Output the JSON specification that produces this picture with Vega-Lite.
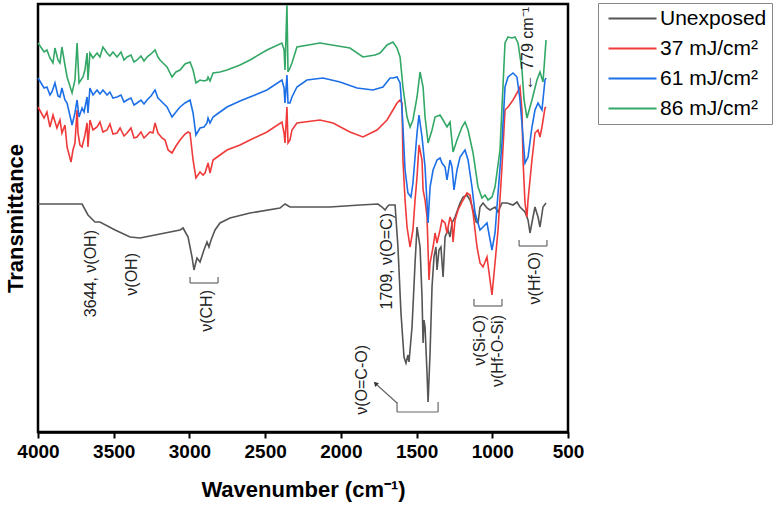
{
  "$schema": "https://vega.github.io/schema/vega-lite/v6.json",
  "width": 530,
  "height": 428,
  "autosize": {"type": "none"},
  "padding": {"left": 38, "top": 4, "right": 208, "bottom": 74},
  "background": "white",
  "config": {"view": {"stroke": "black", "strokeWidth": 2.5}, "font": "Liberation Sans"},
  "datasets": {
    "spectra": [
      {"series":"Unexposed","wn":4000,"T":228},{"series":"Unexposed","wn":3709,"T":228},{"series":"Unexposed","wn":3670,"T":217},{"series":"Unexposed","wn":3624,"T":210},{"series":"Unexposed","wn":3591,"T":210},{"series":"Unexposed","wn":3491,"T":202},{"series":"Unexposed","wn":3392,"T":195},{"series":"Unexposed","wn":3326,"T":194},{"series":"Unexposed","wn":3161,"T":199},{"series":"Unexposed","wn":3062,"T":202},{"series":"Unexposed","wn":3042,"T":204},{"series":"Unexposed","wn":3009,"T":195},{"series":"Unexposed","wn":2983,"T":175},{"series":"Unexposed","wn":2970,"T":162},{"series":"Unexposed","wn":2957,"T":170},{"series":"Unexposed","wn":2950,"T":174},{"series":"Unexposed","wn":2930,"T":170},{"series":"Unexposed","wn":2904,"T":182},{"series":"Unexposed","wn":2884,"T":190},{"series":"Unexposed","wn":2871,"T":185},{"series":"Unexposed","wn":2857,"T":192},{"series":"Unexposed","wn":2831,"T":202},{"series":"Unexposed","wn":2798,"T":209},{"series":"Unexposed","wn":2732,"T":214},{"series":"Unexposed","wn":2600,"T":219},{"series":"Unexposed","wn":2402,"T":224},{"series":"Unexposed","wn":2369,"T":228},{"series":"Unexposed","wn":2336,"T":225},{"series":"Unexposed","wn":2072,"T":225},{"series":"Unexposed","wn":1874,"T":227},{"series":"Unexposed","wn":1755,"T":228},{"series":"Unexposed","wn":1728,"T":225},{"series":"Unexposed","wn":1708,"T":222},{"series":"Unexposed","wn":1695,"T":225},{"series":"Unexposed","wn":1682,"T":227},{"series":"Unexposed","wn":1642,"T":227},{"series":"Unexposed","wn":1623,"T":185},{"series":"Unexposed","wn":1603,"T":119},{"series":"Unexposed","wn":1583,"T":75},{"series":"Unexposed","wn":1570,"T":69},{"series":"Unexposed","wn":1557,"T":77},{"series":"Unexposed","wn":1550,"T":70},{"series":"Unexposed","wn":1530,"T":105},{"series":"Unexposed","wn":1510,"T":169},{"series":"Unexposed","wn":1497,"T":205},{"series":"Unexposed","wn":1477,"T":185},{"series":"Unexposed","wn":1464,"T":135},{"series":"Unexposed","wn":1457,"T":89},{"series":"Unexposed","wn":1451,"T":112},{"series":"Unexposed","wn":1444,"T":105},{"series":"Unexposed","wn":1431,"T":59},{"series":"Unexposed","wn":1424,"T":30},{"series":"Unexposed","wn":1411,"T":79},{"series":"Unexposed","wn":1398,"T":145},{"series":"Unexposed","wn":1385,"T":175},{"series":"Unexposed","wn":1372,"T":185},{"series":"Unexposed","wn":1365,"T":162},{"series":"Unexposed","wn":1352,"T":182},{"series":"Unexposed","wn":1339,"T":185},{"series":"Unexposed","wn":1325,"T":155},{"series":"Unexposed","wn":1312,"T":195},{"series":"Unexposed","wn":1292,"T":202},{"series":"Unexposed","wn":1279,"T":195},{"series":"Unexposed","wn":1266,"T":209},{"series":"Unexposed","wn":1246,"T":215},{"series":"Unexposed","wn":1213,"T":229},{"series":"Unexposed","wn":1193,"T":235},{"series":"Unexposed","wn":1167,"T":237},{"series":"Unexposed","wn":1147,"T":232},{"series":"Unexposed","wn":1127,"T":222},{"series":"Unexposed","wn":1107,"T":210},{"series":"Unexposed","wn":1094,"T":209},{"series":"Unexposed","wn":1081,"T":225},{"series":"Unexposed","wn":1061,"T":229},{"series":"Unexposed","wn":1035,"T":224},{"series":"Unexposed","wn":1015,"T":222},{"series":"Unexposed","wn":982,"T":225},{"series":"Unexposed","wn":962,"T":220},{"series":"Unexposed","wn":936,"T":229},{"series":"Unexposed","wn":903,"T":229},{"series":"Unexposed","wn":863,"T":227},{"series":"Unexposed","wn":837,"T":230},{"series":"Unexposed","wn":817,"T":225},{"series":"Unexposed","wn":784,"T":220},{"series":"Unexposed","wn":764,"T":212},{"series":"Unexposed","wn":751,"T":199},{"series":"Unexposed","wn":731,"T":215},{"series":"Unexposed","wn":718,"T":225},{"series":"Unexposed","wn":698,"T":215},{"series":"Unexposed","wn":685,"T":205},{"series":"Unexposed","wn":665,"T":225},{"series":"Unexposed","wn":645,"T":229},

      {"series":"37 mJ/cm²","wn":4000,"T":325},{"series":"37 mJ/cm²","wn":3960,"T":314},{"series":"37 mJ/cm²","wn":3941,"T":320},{"series":"37 mJ/cm²","wn":3921,"T":305},{"series":"37 mJ/cm²","wn":3901,"T":317},{"series":"37 mJ/cm²","wn":3875,"T":304},{"series":"37 mJ/cm²","wn":3855,"T":312},{"series":"37 mJ/cm²","wn":3842,"T":299},{"series":"37 mJ/cm²","wn":3822,"T":307},{"series":"37 mJ/cm²","wn":3808,"T":285},{"series":"37 mJ/cm²","wn":3782,"T":270},{"series":"37 mJ/cm²","wn":3769,"T":282},{"series":"37 mJ/cm²","wn":3756,"T":289},{"series":"37 mJ/cm²","wn":3742,"T":322},{"series":"37 mJ/cm²","wn":3736,"T":299},{"series":"37 mJ/cm²","wn":3723,"T":287},{"series":"37 mJ/cm²","wn":3709,"T":285},{"series":"37 mJ/cm²","wn":3690,"T":297},{"series":"37 mJ/cm²","wn":3676,"T":309},{"series":"37 mJ/cm²","wn":3670,"T":285},{"series":"37 mJ/cm²","wn":3657,"T":312},{"series":"37 mJ/cm²","wn":3637,"T":302},{"series":"37 mJ/cm²","wn":3610,"T":305},{"series":"37 mJ/cm²","wn":3591,"T":310},{"series":"37 mJ/cm²","wn":3571,"T":300},{"series":"37 mJ/cm²","wn":3544,"T":302},{"series":"37 mJ/cm²","wn":3525,"T":308},{"series":"37 mJ/cm²","wn":3505,"T":298},{"series":"37 mJ/cm²","wn":3478,"T":299},{"series":"37 mJ/cm²","wn":3458,"T":304},{"series":"37 mJ/cm²","wn":3432,"T":296},{"series":"37 mJ/cm²","wn":3412,"T":299},{"series":"37 mJ/cm²","wn":3386,"T":304},{"series":"37 mJ/cm²","wn":3366,"T":294},{"series":"37 mJ/cm²","wn":3346,"T":295},{"series":"37 mJ/cm²","wn":3320,"T":300},{"series":"37 mJ/cm²","wn":3300,"T":294},{"series":"37 mJ/cm²","wn":3280,"T":297},{"series":"37 mJ/cm²","wn":3260,"T":300},{"series":"37 mJ/cm²","wn":3241,"T":299},{"series":"37 mJ/cm²","wn":3227,"T":309},{"series":"37 mJ/cm²","wn":3208,"T":299},{"series":"37 mJ/cm²","wn":3181,"T":294},{"series":"37 mJ/cm²","wn":3161,"T":292},{"series":"37 mJ/cm²","wn":3141,"T":282},{"series":"37 mJ/cm²","wn":3115,"T":279},{"series":"37 mJ/cm²","wn":3089,"T":286},{"series":"37 mJ/cm²","wn":3062,"T":292},{"series":"37 mJ/cm²","wn":3029,"T":298},{"series":"37 mJ/cm²","wn":3009,"T":300},{"series":"37 mJ/cm²","wn":2996,"T":299},{"series":"37 mJ/cm²","wn":2976,"T":272},{"series":"37 mJ/cm²","wn":2957,"T":254},{"series":"37 mJ/cm²","wn":2930,"T":260},{"series":"37 mJ/cm²","wn":2910,"T":257},{"series":"37 mJ/cm²","wn":2897,"T":259},{"series":"37 mJ/cm²","wn":2877,"T":269},{"series":"37 mJ/cm²","wn":2864,"T":259},{"series":"37 mJ/cm²","wn":2844,"T":272},{"series":"37 mJ/cm²","wn":2798,"T":277},{"series":"37 mJ/cm²","wn":2752,"T":282},{"series":"37 mJ/cm²","wn":2666,"T":287},{"series":"37 mJ/cm²","wn":2600,"T":292},{"series":"37 mJ/cm²","wn":2488,"T":300},{"series":"37 mJ/cm²","wn":2389,"T":310},{"series":"37 mJ/cm²","wn":2375,"T":299},{"series":"37 mJ/cm²","wn":2369,"T":289},{"series":"37 mJ/cm²","wn":2356,"T":325},{"series":"37 mJ/cm²","wn":2349,"T":289},{"series":"37 mJ/cm²","wn":2336,"T":292},{"series":"37 mJ/cm²","wn":2323,"T":302},{"series":"37 mJ/cm²","wn":2290,"T":309},{"series":"37 mJ/cm²","wn":2138,"T":312},{"series":"37 mJ/cm²","wn":2052,"T":309},{"series":"37 mJ/cm²","wn":1940,"T":300},{"series":"37 mJ/cm²","wn":1854,"T":295},{"series":"37 mJ/cm²","wn":1761,"T":302},{"series":"37 mJ/cm²","wn":1695,"T":312},{"series":"37 mJ/cm²","wn":1656,"T":322},{"series":"37 mJ/cm²","wn":1629,"T":329},{"series":"37 mJ/cm²","wn":1609,"T":332},{"series":"37 mJ/cm²","wn":1596,"T":329},{"series":"37 mJ/cm²","wn":1590,"T":272},{"series":"37 mJ/cm²","wn":1576,"T":232},{"series":"37 mJ/cm²","wn":1563,"T":205},{"series":"37 mJ/cm²","wn":1543,"T":185},{"series":"37 mJ/cm²","wn":1524,"T":202},{"series":"37 mJ/cm²","wn":1510,"T":232},{"series":"37 mJ/cm²","wn":1497,"T":255},{"series":"37 mJ/cm²","wn":1484,"T":287},{"series":"37 mJ/cm²","wn":1464,"T":272},{"series":"37 mJ/cm²","wn":1457,"T":242},{"series":"37 mJ/cm²","wn":1444,"T":232},{"series":"37 mJ/cm²","wn":1431,"T":215},{"series":"37 mJ/cm²","wn":1424,"T":182},{"series":"37 mJ/cm²","wn":1418,"T":152},{"series":"37 mJ/cm²","wn":1411,"T":169},{"series":"37 mJ/cm²","wn":1391,"T":185},{"series":"37 mJ/cm²","wn":1378,"T":199},{"series":"37 mJ/cm²","wn":1365,"T":189},{"series":"37 mJ/cm²","wn":1345,"T":202},{"series":"37 mJ/cm²","wn":1332,"T":212},{"series":"37 mJ/cm²","wn":1312,"T":209},{"series":"37 mJ/cm²","wn":1299,"T":199},{"series":"37 mJ/cm²","wn":1279,"T":215},{"series":"37 mJ/cm²","wn":1266,"T":209},{"series":"37 mJ/cm²","wn":1259,"T":190},{"series":"37 mJ/cm²","wn":1246,"T":212},{"series":"37 mJ/cm²","wn":1226,"T":222},{"series":"37 mJ/cm²","wn":1193,"T":232},{"series":"37 mJ/cm²","wn":1167,"T":239},{"series":"37 mJ/cm²","wn":1147,"T":237},{"series":"37 mJ/cm²","wn":1127,"T":219},{"series":"37 mJ/cm²","wn":1101,"T":185},{"series":"37 mJ/cm²","wn":1081,"T":169},{"series":"37 mJ/cm²","wn":1061,"T":165},{"series":"37 mJ/cm²","wn":1035,"T":175},{"series":"37 mJ/cm²","wn":1002,"T":137},{"series":"37 mJ/cm²","wn":982,"T":169},{"series":"37 mJ/cm²","wn":962,"T":202},{"series":"37 mJ/cm²","wn":936,"T":265},{"series":"37 mJ/cm²","wn":916,"T":322},{"series":"37 mJ/cm²","wn":896,"T":325},{"series":"37 mJ/cm²","wn":863,"T":332},{"series":"37 mJ/cm²","wn":837,"T":339},{"series":"37 mJ/cm²","wn":817,"T":345},{"series":"37 mJ/cm²","wn":804,"T":322},{"series":"37 mJ/cm²","wn":797,"T":272},{"series":"37 mJ/cm²","wn":784,"T":229},{"series":"37 mJ/cm²","wn":771,"T":215},{"series":"37 mJ/cm²","wn":764,"T":232},{"series":"37 mJ/cm²","wn":738,"T":272},{"series":"37 mJ/cm²","wn":718,"T":299},{"series":"37 mJ/cm²","wn":698,"T":302},{"series":"37 mJ/cm²","wn":685,"T":295},{"series":"37 mJ/cm²","wn":672,"T":305},{"series":"37 mJ/cm²","wn":652,"T":324},{"series":"37 mJ/cm²","wn":645,"T":325},

      {"series":"61 mJ/cm²","wn":4000,"T":354},{"series":"61 mJ/cm²","wn":3960,"T":344},{"series":"61 mJ/cm²","wn":3941,"T":345},{"series":"61 mJ/cm²","wn":3921,"T":337},{"series":"61 mJ/cm²","wn":3908,"T":340},{"series":"61 mJ/cm²","wn":3888,"T":349},{"series":"61 mJ/cm²","wn":3868,"T":336},{"series":"61 mJ/cm²","wn":3855,"T":335},{"series":"61 mJ/cm²","wn":3842,"T":344},{"series":"61 mJ/cm²","wn":3822,"T":332},{"series":"61 mJ/cm²","wn":3808,"T":329},{"series":"61 mJ/cm²","wn":3775,"T":307},{"series":"61 mJ/cm²","wn":3756,"T":319},{"series":"61 mJ/cm²","wn":3742,"T":332},{"series":"61 mJ/cm²","wn":3729,"T":315},{"series":"61 mJ/cm²","wn":3709,"T":324},{"series":"61 mJ/cm²","wn":3696,"T":320},{"series":"61 mJ/cm²","wn":3676,"T":335},{"series":"61 mJ/cm²","wn":3670,"T":319},{"series":"61 mJ/cm²","wn":3657,"T":344},{"series":"61 mJ/cm²","wn":3637,"T":337},{"series":"61 mJ/cm²","wn":3610,"T":342},{"series":"61 mJ/cm²","wn":3591,"T":338},{"series":"61 mJ/cm²","wn":3571,"T":342},{"series":"61 mJ/cm²","wn":3544,"T":337},{"series":"61 mJ/cm²","wn":3525,"T":340},{"series":"61 mJ/cm²","wn":3505,"T":334},{"series":"61 mJ/cm²","wn":3478,"T":335},{"series":"61 mJ/cm²","wn":3452,"T":337},{"series":"61 mJ/cm²","wn":3432,"T":330},{"series":"61 mJ/cm²","wn":3412,"T":332},{"series":"61 mJ/cm²","wn":3386,"T":334},{"series":"61 mJ/cm²","wn":3366,"T":327},{"series":"61 mJ/cm²","wn":3346,"T":329},{"series":"61 mJ/cm²","wn":3320,"T":332},{"series":"61 mJ/cm²","wn":3300,"T":328},{"series":"61 mJ/cm²","wn":3280,"T":332},{"series":"61 mJ/cm²","wn":3254,"T":336},{"series":"61 mJ/cm²","wn":3227,"T":342},{"series":"61 mJ/cm²","wn":3208,"T":334},{"series":"61 mJ/cm²","wn":3194,"T":332},{"series":"61 mJ/cm²","wn":3168,"T":328},{"series":"61 mJ/cm²","wn":3148,"T":325},{"series":"61 mJ/cm²","wn":3115,"T":315},{"series":"61 mJ/cm²","wn":3089,"T":320},{"series":"61 mJ/cm²","wn":3062,"T":325},{"series":"61 mJ/cm²","wn":3029,"T":329},{"series":"61 mJ/cm²","wn":2996,"T":332},{"series":"61 mJ/cm²","wn":2976,"T":319},{"series":"61 mJ/cm²","wn":2957,"T":297},{"series":"61 mJ/cm²","wn":2930,"T":304},{"series":"61 mJ/cm²","wn":2904,"T":305},{"series":"61 mJ/cm²","wn":2884,"T":309},{"series":"61 mJ/cm²","wn":2877,"T":314},{"series":"61 mJ/cm²","wn":2864,"T":309},{"series":"61 mJ/cm²","wn":2844,"T":315},{"series":"61 mJ/cm²","wn":2798,"T":320},{"series":"61 mJ/cm²","wn":2752,"T":325},{"series":"61 mJ/cm²","wn":2666,"T":331},{"series":"61 mJ/cm²","wn":2600,"T":335},{"series":"61 mJ/cm²","wn":2488,"T":342},{"series":"61 mJ/cm²","wn":2389,"T":352},{"series":"61 mJ/cm²","wn":2375,"T":344},{"series":"61 mJ/cm²","wn":2369,"T":329},{"series":"61 mJ/cm²","wn":2356,"T":357},{"series":"61 mJ/cm²","wn":2349,"T":329},{"series":"61 mJ/cm²","wn":2336,"T":329},{"series":"61 mJ/cm²","wn":2323,"T":335},{"series":"61 mJ/cm²","wn":2290,"T":345},{"series":"61 mJ/cm²","wn":2224,"T":352},{"series":"61 mJ/cm²","wn":2118,"T":354},{"series":"61 mJ/cm²","wn":2006,"T":350},{"series":"61 mJ/cm²","wn":1893,"T":344},{"series":"61 mJ/cm²","wn":1788,"T":342},{"series":"61 mJ/cm²","wn":1722,"T":345},{"series":"61 mJ/cm²","wn":1675,"T":354},{"series":"61 mJ/cm²","wn":1656,"T":354},{"series":"61 mJ/cm²","wn":1629,"T":355},{"series":"61 mJ/cm²","wn":1609,"T":349},{"series":"61 mJ/cm²","wn":1596,"T":322},{"series":"61 mJ/cm²","wn":1590,"T":305},{"series":"61 mJ/cm²","wn":1576,"T":262},{"series":"61 mJ/cm²","wn":1557,"T":239},{"series":"61 mJ/cm²","wn":1537,"T":235},{"series":"61 mJ/cm²","wn":1524,"T":249},{"series":"61 mJ/cm²","wn":1497,"T":299},{"series":"61 mJ/cm²","wn":1484,"T":317},{"series":"61 mJ/cm²","wn":1464,"T":295},{"series":"61 mJ/cm²","wn":1444,"T":265},{"series":"61 mJ/cm²","wn":1431,"T":229},{"series":"61 mJ/cm²","wn":1424,"T":209},{"series":"61 mJ/cm²","wn":1411,"T":245},{"series":"61 mJ/cm²","wn":1391,"T":262},{"series":"61 mJ/cm²","wn":1365,"T":272},{"series":"61 mJ/cm²","wn":1345,"T":274},{"series":"61 mJ/cm²","wn":1332,"T":269},{"series":"61 mJ/cm²","wn":1312,"T":265},{"series":"61 mJ/cm²","wn":1299,"T":252},{"series":"61 mJ/cm²","wn":1279,"T":272},{"series":"61 mJ/cm²","wn":1266,"T":265},{"series":"61 mJ/cm²","wn":1253,"T":242},{"series":"61 mJ/cm²","wn":1233,"T":262},{"series":"61 mJ/cm²","wn":1213,"T":275},{"series":"61 mJ/cm²","wn":1180,"T":282},{"series":"61 mJ/cm²","wn":1160,"T":272},{"series":"61 mJ/cm²","wn":1134,"T":245},{"series":"61 mJ/cm²","wn":1114,"T":219},{"series":"61 mJ/cm²","wn":1081,"T":202},{"series":"61 mJ/cm²","wn":1061,"T":205},{"series":"61 mJ/cm²","wn":1035,"T":209},{"series":"61 mJ/cm²","wn":1002,"T":182},{"series":"61 mJ/cm²","wn":982,"T":199},{"series":"61 mJ/cm²","wn":962,"T":239},{"series":"61 mJ/cm²","wn":936,"T":289},{"series":"61 mJ/cm²","wn":916,"T":345},{"series":"61 mJ/cm²","wn":896,"T":355},{"series":"61 mJ/cm²","wn":863,"T":359},{"series":"61 mJ/cm²","wn":837,"T":355},{"series":"61 mJ/cm²","wn":817,"T":332},{"series":"61 mJ/cm²","wn":797,"T":295},{"series":"61 mJ/cm²","wn":784,"T":269},{"series":"61 mJ/cm²","wn":764,"T":275},{"series":"61 mJ/cm²","wn":738,"T":305},{"series":"61 mJ/cm²","wn":718,"T":322},{"series":"61 mJ/cm²","wn":698,"T":329},{"series":"61 mJ/cm²","wn":672,"T":322},{"series":"61 mJ/cm²","wn":652,"T":352},{"series":"61 mJ/cm²","wn":645,"T":354},

      {"series":"86 mJ/cm²","wn":4000,"T":389},{"series":"86 mJ/cm²","wn":3960,"T":380},{"series":"86 mJ/cm²","wn":3941,"T":382},{"series":"86 mJ/cm²","wn":3921,"T":374},{"series":"86 mJ/cm²","wn":3901,"T":369},{"series":"86 mJ/cm²","wn":3888,"T":384},{"series":"86 mJ/cm²","wn":3868,"T":372},{"series":"86 mJ/cm²","wn":3855,"T":369},{"series":"86 mJ/cm²","wn":3842,"T":385},{"series":"86 mJ/cm²","wn":3822,"T":367},{"series":"86 mJ/cm²","wn":3808,"T":355},{"series":"86 mJ/cm²","wn":3775,"T":339},{"series":"86 mJ/cm²","wn":3756,"T":352},{"series":"86 mJ/cm²","wn":3742,"T":389},{"series":"86 mJ/cm²","wn":3729,"T":349},{"series":"86 mJ/cm²","wn":3703,"T":355},{"series":"86 mJ/cm²","wn":3690,"T":362},{"series":"86 mJ/cm²","wn":3676,"T":379},{"series":"86 mJ/cm²","wn":3670,"T":352},{"series":"86 mJ/cm²","wn":3657,"T":379},{"series":"86 mJ/cm²","wn":3637,"T":374},{"series":"86 mJ/cm²","wn":3610,"T":379},{"series":"86 mJ/cm²","wn":3591,"T":375},{"series":"86 mJ/cm²","wn":3571,"T":385},{"series":"86 mJ/cm²","wn":3544,"T":379},{"series":"86 mJ/cm²","wn":3525,"T":376},{"series":"86 mJ/cm²","wn":3505,"T":380},{"series":"86 mJ/cm²","wn":3478,"T":375},{"series":"86 mJ/cm²","wn":3452,"T":380},{"series":"86 mJ/cm²","wn":3432,"T":372},{"series":"86 mJ/cm²","wn":3412,"T":375},{"series":"86 mJ/cm²","wn":3386,"T":377},{"series":"86 mJ/cm²","wn":3366,"T":370},{"series":"86 mJ/cm²","wn":3346,"T":372},{"series":"86 mJ/cm²","wn":3320,"T":376},{"series":"86 mJ/cm²","wn":3300,"T":371},{"series":"86 mJ/cm²","wn":3280,"T":375},{"series":"86 mJ/cm²","wn":3254,"T":378},{"series":"86 mJ/cm²","wn":3227,"T":382},{"series":"86 mJ/cm²","wn":3208,"T":375},{"series":"86 mJ/cm²","wn":3194,"T":372},{"series":"86 mJ/cm²","wn":3168,"T":368},{"series":"86 mJ/cm²","wn":3148,"T":365},{"series":"86 mJ/cm²","wn":3115,"T":355},{"series":"86 mJ/cm²","wn":3089,"T":360},{"series":"86 mJ/cm²","wn":3062,"T":362},{"series":"86 mJ/cm²","wn":3029,"T":368},{"series":"86 mJ/cm²","wn":2996,"T":370},{"series":"86 mJ/cm²","wn":2976,"T":362},{"series":"86 mJ/cm²","wn":2957,"T":349},{"series":"86 mJ/cm²","wn":2930,"T":352},{"series":"86 mJ/cm²","wn":2904,"T":351},{"series":"86 mJ/cm²","wn":2884,"T":352},{"series":"86 mJ/cm²","wn":2877,"T":355},{"series":"86 mJ/cm²","wn":2864,"T":351},{"series":"86 mJ/cm²","wn":2844,"T":359},{"series":"86 mJ/cm²","wn":2798,"T":360},{"series":"86 mJ/cm²","wn":2752,"T":362},{"series":"86 mJ/cm²","wn":2666,"T":367},{"series":"86 mJ/cm²","wn":2600,"T":372},{"series":"86 mJ/cm²","wn":2488,"T":382},{"series":"86 mJ/cm²","wn":2389,"T":389},{"series":"86 mJ/cm²","wn":2375,"T":382},{"series":"86 mJ/cm²","wn":2369,"T":362},{"series":"86 mJ/cm²","wn":2356,"T":427},{"series":"86 mJ/cm²","wn":2349,"T":360},{"series":"86 mJ/cm²","wn":2336,"T":364},{"series":"86 mJ/cm²","wn":2323,"T":369},{"series":"86 mJ/cm²","wn":2290,"T":385},{"series":"86 mJ/cm²","wn":2138,"T":389},{"series":"86 mJ/cm²","wn":1940,"T":384},{"series":"86 mJ/cm²","wn":1854,"T":375},{"series":"86 mJ/cm²","wn":1774,"T":377},{"series":"86 mJ/cm²","wn":1741,"T":379},{"series":"86 mJ/cm²","wn":1695,"T":387},{"series":"86 mJ/cm²","wn":1656,"T":390},{"series":"86 mJ/cm²","wn":1629,"T":384},{"series":"86 mJ/cm²","wn":1609,"T":375},{"series":"86 mJ/cm²","wn":1590,"T":345},{"series":"86 mJ/cm²","wn":1563,"T":315},{"series":"86 mJ/cm²","wn":1543,"T":305},{"series":"86 mJ/cm²","wn":1524,"T":312},{"series":"86 mJ/cm²","wn":1497,"T":335},{"series":"86 mJ/cm²","wn":1477,"T":360},{"series":"86 mJ/cm²","wn":1457,"T":345},{"series":"86 mJ/cm²","wn":1444,"T":315},{"series":"86 mJ/cm²","wn":1424,"T":289},{"series":"86 mJ/cm²","wn":1398,"T":302},{"series":"86 mJ/cm²","wn":1378,"T":315},{"series":"86 mJ/cm²","wn":1345,"T":317},{"series":"86 mJ/cm²","wn":1325,"T":312},{"series":"86 mJ/cm²","wn":1299,"T":305},{"series":"86 mJ/cm²","wn":1279,"T":310},{"series":"86 mJ/cm²","wn":1259,"T":280},{"series":"86 mJ/cm²","wn":1233,"T":292},{"series":"86 mJ/cm²","wn":1200,"T":305},{"series":"86 mJ/cm²","wn":1180,"T":310},{"series":"86 mJ/cm²","wn":1160,"T":302},{"series":"86 mJ/cm²","wn":1127,"T":279},{"series":"86 mJ/cm²","wn":1094,"T":245},{"series":"86 mJ/cm²","wn":1068,"T":234},{"series":"86 mJ/cm²","wn":1048,"T":237},{"series":"86 mJ/cm²","wn":1028,"T":232},{"series":"86 mJ/cm²","wn":1002,"T":235},{"series":"86 mJ/cm²","wn":982,"T":245},{"series":"86 mJ/cm²","wn":949,"T":282},{"series":"86 mJ/cm²","wn":916,"T":389},{"series":"86 mJ/cm²","wn":896,"T":395},{"series":"86 mJ/cm²","wn":870,"T":394},{"series":"86 mJ/cm²","wn":850,"T":395},{"series":"86 mJ/cm²","wn":830,"T":389},{"series":"86 mJ/cm²","wn":804,"T":362},{"series":"86 mJ/cm²","wn":790,"T":332},{"series":"86 mJ/cm²","wn":771,"T":314},{"series":"86 mJ/cm²","wn":738,"T":332},{"series":"86 mJ/cm²","wn":705,"T":352},{"series":"86 mJ/cm²","wn":685,"T":360},{"series":"86 mJ/cm²","wn":665,"T":350},{"series":"86 mJ/cm²","wn":645,"T":392}
    ],
    "segs": [
      {"wn":2996,"wn2":2811,"T":149,"T2":149},{"wn":2996,"wn2":2996,"T":149,"T2":155},{"wn":2811,"wn2":2811,"T":149,"T2":155},
      {"wn":1629,"wn2":1358,"T":20,"T2":20},{"wn":1629,"wn2":1629,"T":20,"T2":30},{"wn":1358,"wn2":1358,"T":20,"T2":30},
      {"wn":1121,"wn2":936,"T":126,"T2":126},{"wn":1121,"wn2":1121,"T":126,"T2":133},{"wn":936,"wn2":936,"T":126,"T2":133},
      {"wn":823,"wn2":639,"T":186,"T2":186},{"wn":823,"wn2":823,"T":186,"T2":192},{"wn":639,"wn2":639,"T":186,"T2":192},
      {"wn":1629,"wn2":1768,"T":29,"T2":48}
    ],
    "heads": [{"wn":1768,"T":48}],
    "labels": [
      {"label":"3644, ν(OH)","wn":3650,"T":202},
      {"label":"ν(OH)","wn":3379,"T":179},
      {"label":"ν(CH)","wn":2884,"T":142},
      {"label":"1709, ν(O=C)","wn":1695,"T":219},
      {"label":"ν(O=C-O)","wn":1860,"T":87},
      {"label":"ν(Si-O)","wn":1081,"T":117},
      {"label":"ν(Hf-O-Si)","wn":962,"T":117},
      {"label":"ν(Hf-O)","wn":718,"T":180},
      {"label":"← 779 cm⁻¹","wn":764,"T":425}
    ]
  },
  "layer": [
    {
      "data": {"name": "spectra"},
      "mark": {"type": "line", "strokeWidth": 1.6},
      "encoding": {
        "x": {"field": "wn", "type": "quantitative",
          "scale": {"domain": [500, 4000], "reverse": true, "nice": false, "zero": false},
          "axis": {"title": "Wavenumber (cm⁻¹)", "values": [500,750,1000,1250,1500,1750,2000,2250,2500,2750,3000,3250,3500,3750,4000],
            "labelExpr": "datum.value % 500 == 0 ? datum.label : ''", "format": "d", "labelFlush": false, "labelOverlap": false,
            "grid": false, "domainColor": "black", "domainWidth": 2.5, "tickColor": "black", "tickWidth": 2, "tickSize": 6,
            "labelFontSize": 19, "labelFontWeight": "bold", "labelColor": "black", "labelPadding": 4, "labelFont": "Liberation Sans",
            "titleFontSize": 22, "titleFontWeight": "bold", "titleColor": "black", "titlePadding": 18, "titleFont": "Liberation Sans"}},
        "y": {"field": "T", "type": "quantitative",
          "scale": {"domain": [0, 428], "nice": false, "zero": false},
          "axis": {"title": "Transmittance", "labels": false, "ticks": false, "domain": false, "grid": false,
            "titleFontSize": 22, "titleFontWeight": "bold", "titleColor": "black", "titlePadding": 11, "titleFont": "Liberation Sans"}},
        "color": {"field": "series", "type": "nominal",
          "scale": {"domain": ["Unexposed", "37 mJ/cm²", "61 mJ/cm²", "86 mJ/cm²"], "range": ["#555555", "#f03a3a", "#1c6fe6", "#33a866"]},
          "legend": {"title": null, "orient": "none", "legendX": 560, "legendY": -1, "strokeColor": "#888888", "fillColor": "white",
            "padding": 5, "symbolType": "M-1,0H8.6", "symbolSize": 100, "symbolStrokeWidth": 2, "labelFontSize": 21, "labelFont": "Liberation Sans",
            "labelColor": "black", "rowPadding": 8, "labelOffset": 36, "cornerRadius": 0}}
      }
    },
    {
      "data": {"name": "segs"},
      "mark": {"type": "rule", "color": "#666666", "strokeWidth": 1.2},
      "encoding": {
        "x": {"field": "wn", "type": "quantitative"},
        "x2": {"field": "wn2"},
        "y": {"field": "T", "type": "quantitative"},
        "y2": {"field": "T2"}
      }
    },
    {
      "data": {"name": "heads"},
      "mark": {"type": "point", "shape": "triangle", "filled": true, "size": 28, "angle": 315, "color": "#333333", "opacity": 1},
      "encoding": {
        "x": {"field": "wn", "type": "quantitative"},
        "y": {"field": "T", "type": "quantitative"}
      }
    },
    {
      "data": {"name": "labels"},
      "mark": {"type": "text", "angle": 270, "align": "right", "baseline": "middle", "fontSize": 16, "color": "#222222", "font": "Liberation Sans"},
      "encoding": {
        "x": {"field": "wn", "type": "quantitative"},
        "y": {"field": "T", "type": "quantitative"},
        "text": {"field": "label"}
      }
    }
  ]
}
